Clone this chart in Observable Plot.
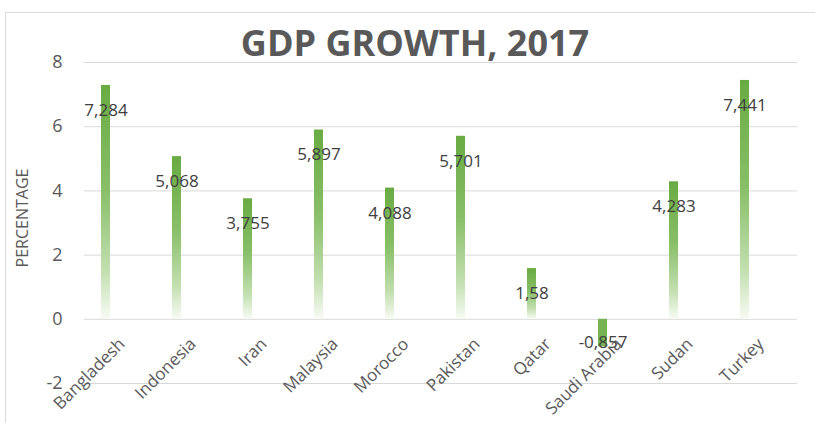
<!DOCTYPE html>
<html>
<head>
<meta charset="utf-8">
<script src="https://cdn.jsdelivr.net/npm/d3@7"></script>
<script src="https://cdn.jsdelivr.net/npm/@observablehq/plot@0.6"></script>
<style>
  html, body { margin: 0; padding: 0; background: #fff; }
  #wrap { position: relative; width: 815px; height: 423px; overflow: hidden; font-family: "Open Sans", sans-serif; }
  #frame { position: absolute; left: 5px; top: 12px; width: 840px; height: 440px; border: 1px solid #d9d9d9; box-sizing: border-box; }
  #title { position: absolute; left: 0; width: 830px; top: 18px; text-align: center; font-weight: 700; font-size: 36px; color: #595959; z-index: 2; }
  #chart { position: absolute; left: 0; top: 0; }
</style>
</head>
<body>
<div id="wrap">
  <div id="frame"></div>
  <div id="chart"></div>
  <div id="title">GDP GROWTH, 2017</div>
</div>
<script>
const countries = ["Bangladesh", "Indonesia", "Iran", "Malaysia", "Morocco", "Pakistan", "Qatar", "Saudi Arabia", "Sudan", "Turkey"];
const growth = [7.284, 5.068, 3.755, 5.897, 4.088, 5.701, 1.58, -0.857, 4.283, 7.441];
const valueLabels = ["7,284", "5,068", "3,755", "5,897", "4,088", "5,701", "1,58", "-0,857", "4,283", "7,441"];
const yTicks = [-2, 0, 2, 4, 6, 8];

const data = countries.map((c, i) => ({country: c, value: growth[i], label: valueLabels[i]}));

const chart = Plot.plot({
  width: 815,
  height: 423,
  marginLeft: 84,
  marginRight: 18,
  marginTop: 62,
  marginBottom: 40,
  style: {fontFamily: "Open Sans, sans-serif", background: "transparent", overflow: "visible"},
  x: {domain: countries, padding: 0, range: [69.4, 781.1], axis: null},
  y: {domain: [-2, 8], axis: null},
  marks: [
    Plot.gridY(yTicks, {stroke: "#d9d9d9", strokeOpacity: 1, strokeWidth: 1}),
    Plot.barY(data, {x: "country", y: "value", insetLeft: 31, insetRight: 31,
      fill: d => d.value >= 0 ? "url(#gradPos)" : "#77b353"}),
    Plot.text(data, {x: "country", y: "value", text: "label",
      fontSize: 17, fill: "#404040",
      filter: d => d.value >= 0, dy: 25}),
    Plot.text(data, {x: "country", y: "value", text: "label",
      fontSize: 17, fill: "#404040",
      filter: d => d.value < 0, dy: -4}),
    Plot.text(yTicks, {y: d => d, text: d => String(d), frameAnchor: "left", dx: -22,
      textAnchor: "end", fontSize: 18, fill: "#595959"}),
    Plot.text(countries, {x: d => d, y: 0, text: d => d, dx: 16, dy: 22, rotate: -45,
      textAnchor: "end", fontSize: 17, fill: "#595959"}),
    Plot.text(["PERCENTAGE"], {frameAnchor: "left", dx: -62, dy: -5, rotate: -90,
      textAnchor: "middle", fontSize: 16, fill: "#595959"})
  ]
});

const svg = d3.select(chart);
const defs = svg.insert("defs", ":first-child");
const g = defs.append("linearGradient").attr("id", "gradPos")
  .attr("x1", 0).attr("y1", 0).attr("x2", 0).attr("y2", 1);
g.append("stop").attr("offset", "0%").attr("stop-color", "#69ab43");
g.append("stop").attr("offset", "45%").attr("stop-color", "#88bf68");
g.append("stop").attr("offset", "80%").attr("stop-color", "#c3e0b1");
g.append("stop").attr("offset", "100%").attr("stop-color", "#f7fbf4");

document.getElementById("chart").appendChild(chart);
</script>
</body>
</html>
